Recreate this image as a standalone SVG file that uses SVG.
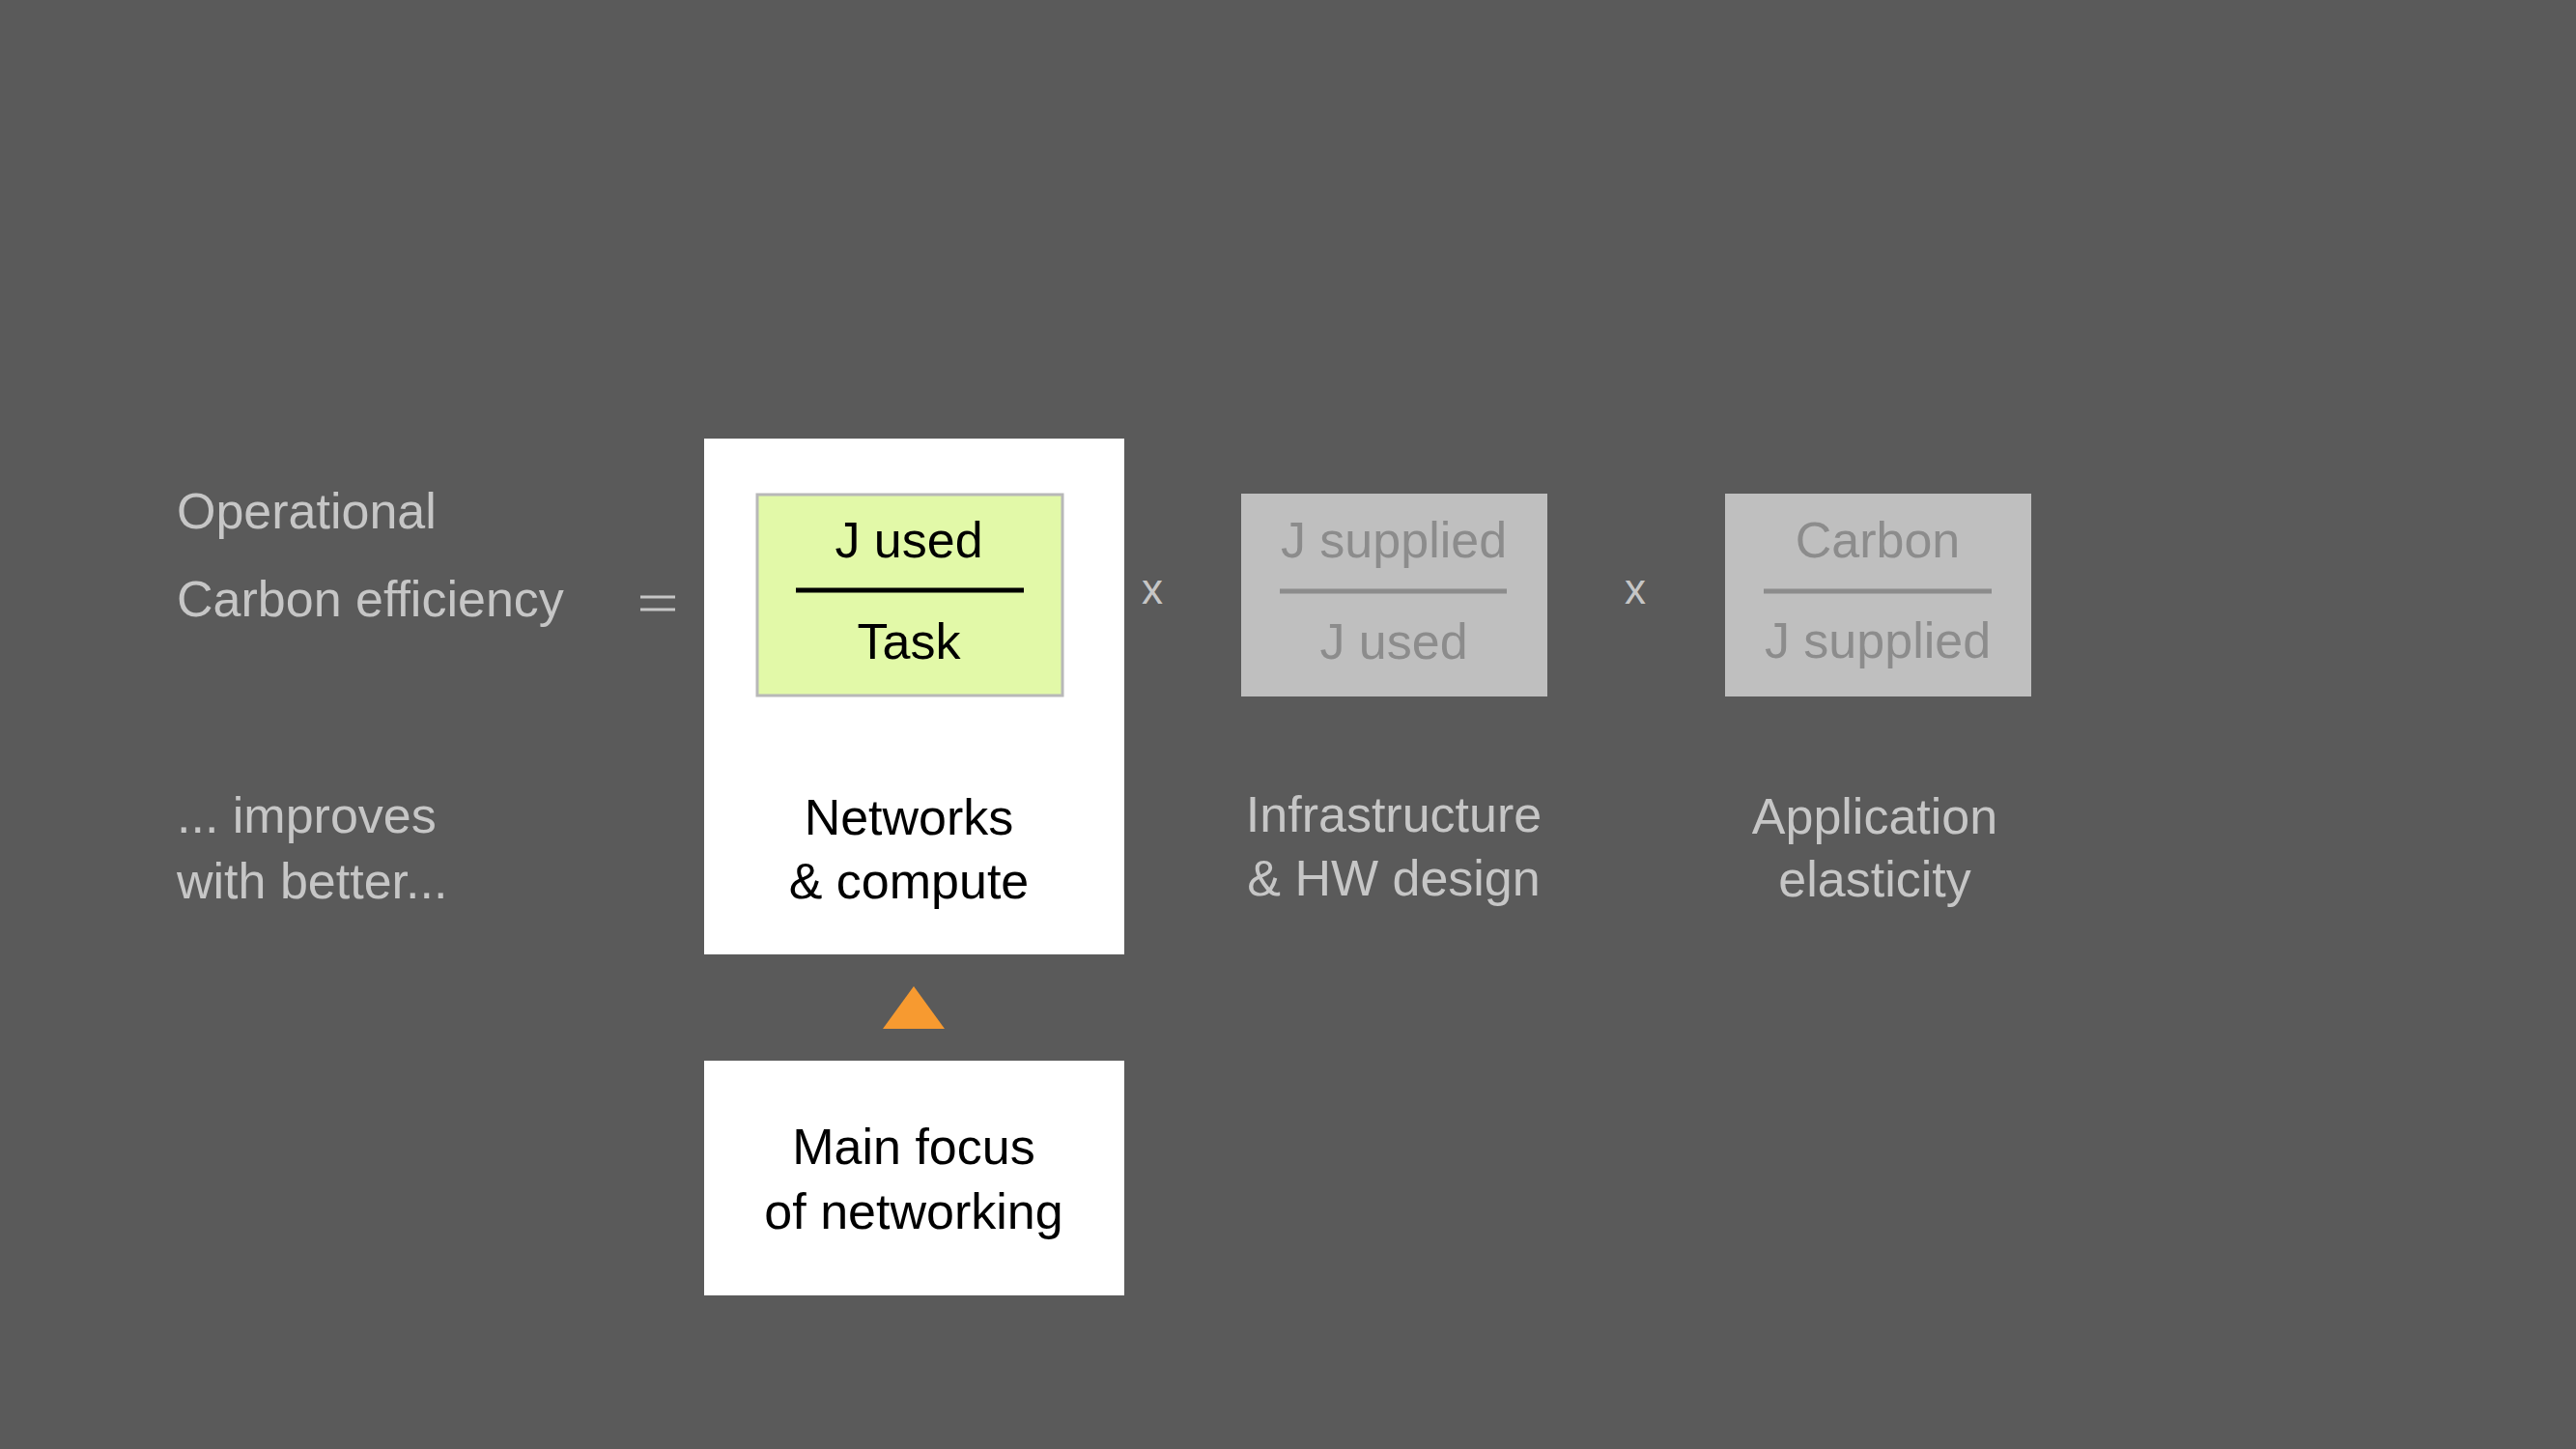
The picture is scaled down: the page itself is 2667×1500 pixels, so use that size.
<svg xmlns="http://www.w3.org/2000/svg" width="2667" height="1500" viewBox="0 0 2667 1500">
<style>
text{font-family:"Liberation Sans",Arial,sans-serif;font-size:52px}
.lt{fill:#c6c6c6}
.bk{fill:#000}
.gt{fill:#8c8c8c}
.c{text-anchor:middle}
.wbox{fill:#ffffff}
.gbox{fill:#bfbfbf}
</style>
<rect width="2667" height="1500" fill="#5a5a5a"/>
<g id="lhs">
<text class="lt" x="183" y="547">Operational</text>
<text class="lt" x="183" y="638">Carbon  efficiency</text>
<text class="lt" x="183" y="862">... improves</text>
<text class="lt" x="183" y="930">with  better...</text>
</g>
<g id="equals">
<line x1="663" y1="618" x2="699" y2="618" stroke="#c6c6c6" stroke-width="3"/>
<line x1="663" y1="631" x2="699" y2="631" stroke="#c6c6c6" stroke-width="3"/>
</g>
<g id="networks">
<rect class="wbox" x="729" y="454" width="435" height="534"/>
<rect x="784" y="512" width="316" height="208" fill="#e2f9a8" stroke="#b8b8b8" stroke-width="3"/>
<text class="bk c" x="941" y="577">J  used</text>
<line x1="824" y1="611" x2="1060" y2="611" stroke="#000" stroke-width="5"/>
<text class="bk c" x="941" y="682">Task</text>
<text class="bk c" x="941" y="864">Networks</text>
<text class="bk c" x="941" y="930">&amp; compute</text>
</g>
<g id="times1"><text class="lt c" x="1193" y="625" style="font-size:44px">x</text></g>
<g id="infra">
<rect class="gbox" x="1285" y="511" width="317" height="210"/>
<text class="gt c" x="1443" y="577">J  supplied</text>
<line x1="1325" y1="612" x2="1560" y2="612" stroke="#8c8c8c" stroke-width="5"/>
<text class="gt c" x="1443" y="682">J  used</text>
<text class="lt c" x="1443" y="861">Infrastructure</text>
<text class="lt c" x="1443" y="927">&amp; HW design</text>
</g>
<g id="times2"><text class="lt c" x="1693" y="625" style="font-size:44px">x</text></g>
<g id="app">
<rect class="gbox" x="1786" y="511" width="317" height="210"/>
<text class="gt c" x="1944" y="577">Carbon</text>
<line x1="1826" y1="612" x2="2062" y2="612" stroke="#8c8c8c" stroke-width="5"/>
<text class="gt c" x="1944" y="681">J  supplied</text>
<text class="lt c" x="1941" y="863">Application</text>
<text class="lt c" x="1941" y="928">elasticity</text>
</g>
<g id="connectors">
<polygon points="946,1021 978,1065 914,1065" fill="#f79a30"/>
</g>
<g id="focus">
<rect class="wbox" x="729" y="1098" width="435" height="243"/>
<text class="bk c" x="946" y="1205">Main  focus</text>
<text class="bk c" x="946" y="1272">of  networking</text>
</g>
</svg>
